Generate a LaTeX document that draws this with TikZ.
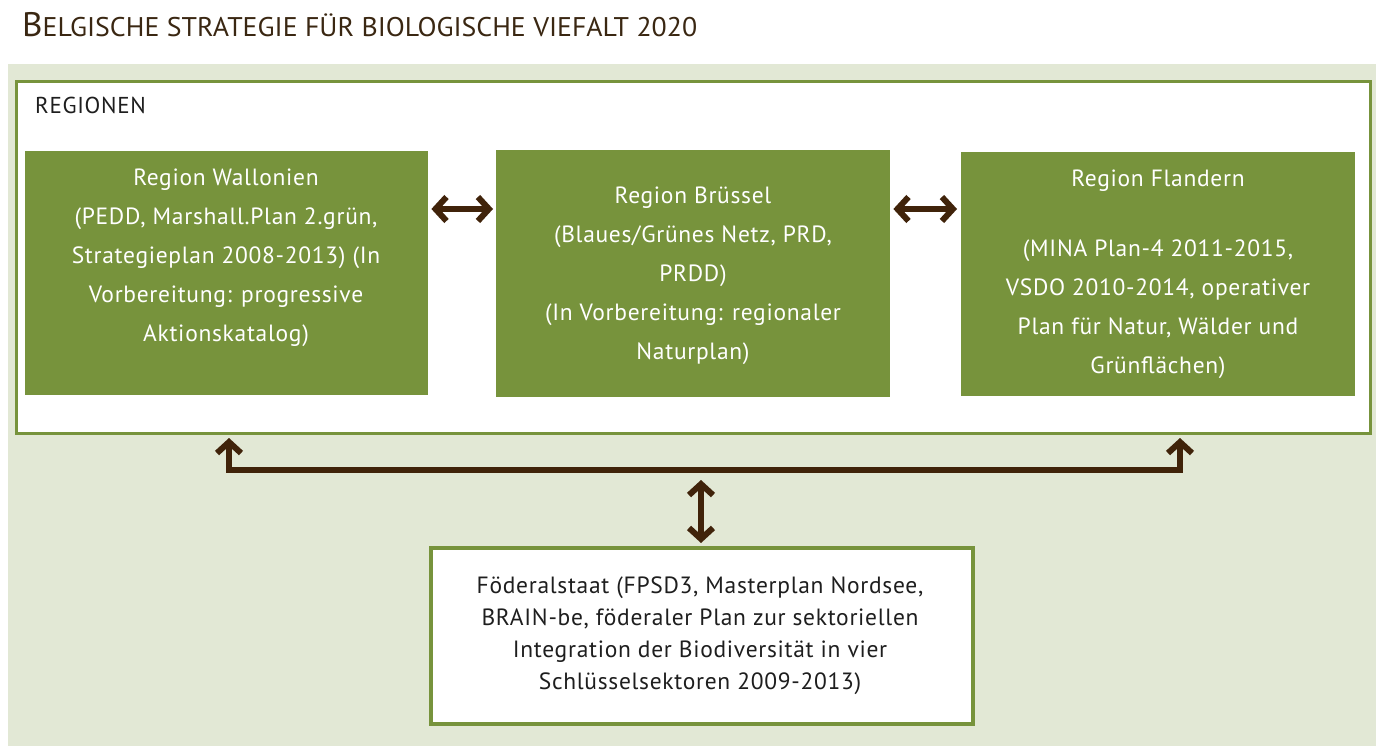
\documentclass[tikz,border=0pt]{standalone}
\usepackage{fontspec}
\usepackage{graphicx}
\setmainfont{PT Sans}[LetterSpace=3]
\newfontfamily\titlefont{PT Sans}
\usetikzlibrary{arrows.meta,calc}
\definecolor{bggreen}{HTML}{E2E8D5}
\definecolor{mygreen}{HTML}{77933C}
\definecolor{brownarrow}{HTML}{40230A}
\definecolor{titlebrown}{HTML}{3A2712}
\definecolor{darktext}{HTML}{1E1E1E}
\begin{document}
\begin{tikzpicture}[x=1pt,y=-1pt,
  greenbox/.style={fill=mygreen, draw=none, inner sep=0pt, anchor=north west},
  whitebox/.style={fill=white, draw=mygreen, line width=3pt, inner sep=0pt, anchor=north west},
  greentext/.style={text=white, align=center, inner sep=0pt, font=\fontsize{23.5}{39}\selectfont},
  fedtext/.style={text=darktext, align=center, inner sep=0pt, font=\fontsize{23.5}{32}\selectfont},
  biarrow/.style={draw=brownarrow, line width=6pt,
     {Straight Barb[length=11pt,width=24pt]}-{Straight Barb[length=11pt,width=24pt]}}
]
\useasboundingbox (0,0) rectangle (1386,754);
% title
\node[anchor=base west, inner sep=0pt, text=titlebrown] (title) at (22,37)
  {\titlefont\scalebox{1.03}[1]{{\fontsize{34}{34}\selectfont B}{\fontsize{27}{27}\selectfont ELGISCHE STRATEGIE FÜR BIOLOGISCHE VIEFALT 2020}}};
% background panel
\node[fill=bggreen, draw=none, inner sep=0pt, anchor=north west, minimum width=1368pt, minimum height=682pt] (bg) at (8,64) {};
% regions frame
\node[whitebox, minimum width=1354pt, minimum height=352pt] (reg) at (15,80) {};
\node[anchor=west, inner sep=0pt, text=darktext, font=\fontsize{23}{26}\selectfont] (reglabel) at (35,105) {REGIONEN};
% region boxes
\node[greenbox, minimum width=403pt, minimum height=244pt] (w) at (25,151) {};
\node[greenbox, minimum width=394pt, minimum height=247pt] (b) at (496,150) {};
\node[greenbox, minimum width=394pt, minimum height=244pt] (f) at (961,152) {};
\node[greentext] (wt) at (226,258) {Region Wallonien\\(PEDD, Marshall.Plan 2.grün,\\Strategieplan 2008-2013) (In\\Vorbereitung: progressive\\Aktionskatalog)};
\node[greentext] (bt) at (693,276) {Region Brüssel\\(Blaues/Grünes Netz, PRD,\\PRDD)\\(In Vorbereitung: regionaler\\Naturplan)};
\node[greentext] (fh) at (1158,181) {Region Flandern};
\node[greentext] (ft) at (1158,309) {(MINA Plan-4 2011-2015,\\VSDO 2010-2014, operativer\\Plan für Natur, Wälder und\\Grünflächen)};
% federal box
\node[whitebox, line width=3.5pt, minimum width=542pt, minimum height=176pt] (fed) at (429,546) {};
\node[fedtext] (fedt) at (700,636) {Föderalstaat (FPSD3, Masterplan Nordsee,\\BRAIN-be, föderaler Plan zur sektoriellen\\Integration der Biodiversität in vier\\Schlüsselsektoren 2009-2013)};
% horizontal arrows between regions
\draw[biarrow] ($(w.north east)+(3,58)$) -- ($(b.north west)+(-3,59)$);
\draw[biarrow] ($(b.north east)+(3,59)$) -- ($(f.north west)+(-4,57)$);
% bracket
\coordinate (bl) at (229,470);
\coordinate (br) at (1180,470);
\draw[biarrow] ($(reg.south -| bl)+(0,3)$) -- (bl) -- (br) -- ($(reg.south -| br)+(0,3)$);
% vertical arrow
\coordinate (vt) at (701,480);
\draw[biarrow] (vt) -- ($(fed.north -| vt)+(0,-3)$);
\end{tikzpicture}
\end{document}
